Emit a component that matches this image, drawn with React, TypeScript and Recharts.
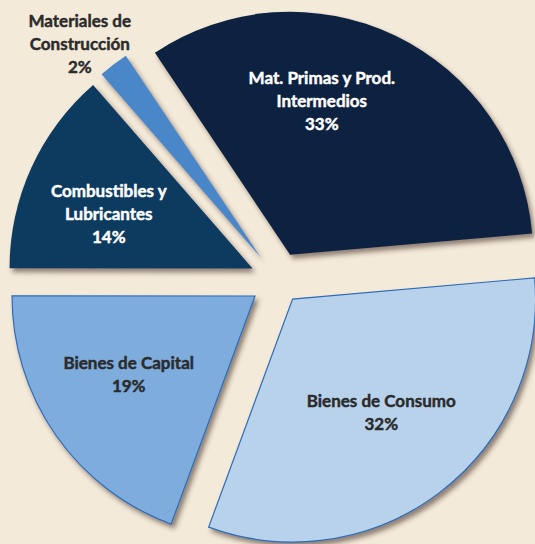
import { PieChart, Pie, Cell, Sector } from "recharts";

const categories = [
  "Mat. Primas y Prod. Intermedios",
  "Materiales de Construcción",
  "Combustibles y Lubricantes",
  "Bienes de Capital",
  "Bienes de Consumo",
];
const shares = [33, 2, 13.6, 19.4, 32];
const labelLines = [
  ["Mat. Primas y Prod.", "Intermedios"],
  ["Materiales de", "Construcción"],
  ["Combustibles y", "Lubricantes"],
  ["Bienes de Capital"],
  ["Bienes de Consumo"],
];

const data = categories.map((name, i) => ({ name, value: shares[i] }));

// look
const BG = "#f4ead9";
const FILLS = ["#0b2341", "#4a87c9", "#0e3a60", "#7eacdd", "#b8d2ec"];
const STROKES = ["none", "none", "none", "#2f6cb6", "#2f6cb6"];
const TEXT = ["#ffffff", "#2b2b2b", "#ffffff", "#2b2b2b", "#2b2b2b"];
const EXPLODE = [28, 28, 28, 28, 24];
const LABEL_R = [185, 309, 182, 176, 167];
const LABEL_SHIFT = [11.9, 2.5, 2.9, -2.9, 0.8];
const RAD = Math.PI / 180;

function sliceIndex(p: any) {
  const name = p.name ?? p.payload?.name;
  const i = categories.indexOf(name);
  return i >= 0 ? i : p.index ?? 0;
}

function ExplodedSlice(props: any) {
  const i = sliceIndex(props);
  const d = EXPLODE[i];
  const dx = d * Math.cos(-props.midAngle * RAD);
  const dy = d * Math.sin(-props.midAngle * RAD);
  return (
    <g filter="url(#sliceShadow)">
      <Sector
        cx={props.cx + dx}
        cy={props.cy + dy}
        innerRadius={0}
        outerRadius={props.outerRadius}
        startAngle={props.startAngle}
        endAngle={props.endAngle}
        fill={FILLS[i]}
        stroke={STROKES[i]}
        strokeWidth={1.2}
      />
    </g>
  );
}

function SliceLabel(props: any) {
  const i = sliceIndex(props);
  const ang = (props.midAngle + LABEL_SHIFT[i]) * RAD;
  const x = props.cx + LABEL_R[i] * Math.cos(-ang);
  const y = props.cy + LABEL_R[i] * Math.sin(-ang);
  const lines = [...labelLines[i], `${Math.round(shares[i])}%`];
  const lh = 23;
  const y0 = y - ((lines.length - 1) * lh) / 2;
  return (
    <text
      x={x}
      y={y0}
      textAnchor="middle"
      dominantBaseline="central"
      fill={TEXT[i]}
      stroke={TEXT[i]}
      strokeWidth={0.45}
      fontFamily="Lato, 'Open Sans', sans-serif"
      fontWeight={700}
      fontSize={17}
    >
      {lines.map((t, k) => (
        <tspan key={k} x={x} y={y0 + k * lh}>
          {t}
        </tspan>
      ))}
    </text>
  );
}

export default function App() {
  return (
    <div
      style={{
        position: "absolute",
        left: 0,
        top: 0,
        width: 535,
        height: 544,
        background: BG,
        overflow: "hidden",
      }}
    >
      <svg width={0} height={0} style={{ position: "absolute" }}>
        <defs>
          <filter id="sliceShadow" x="-20%" y="-20%" width="140%" height="140%">
            <feDropShadow dx={3} dy={4} stdDeviation={2.5} floodColor="#3a2a1a" floodOpacity={0.55} />
          </filter>
        </defs>
      </svg>
      <PieChart width={535} height={544} margin={{ top: 0, right: 0, bottom: 0, left: 0 }}>
        <Pie
          data={data}
          dataKey="value"
          nameKey="name"
          cx={278}
          cy={280}
          innerRadius={0}
          outerRadius={243}
          startAngle={5}
          endAngle={365}
          shape={ExplodedSlice}
          label={SliceLabel}
          labelLine={false}
          isAnimationActive={false}
        >
          {data.map((d, i) => (
            <Cell key={d.name} fill={FILLS[i]} stroke={STROKES[i]} />
          ))}
        </Pie>
      </PieChart>
    </div>
  );
}
